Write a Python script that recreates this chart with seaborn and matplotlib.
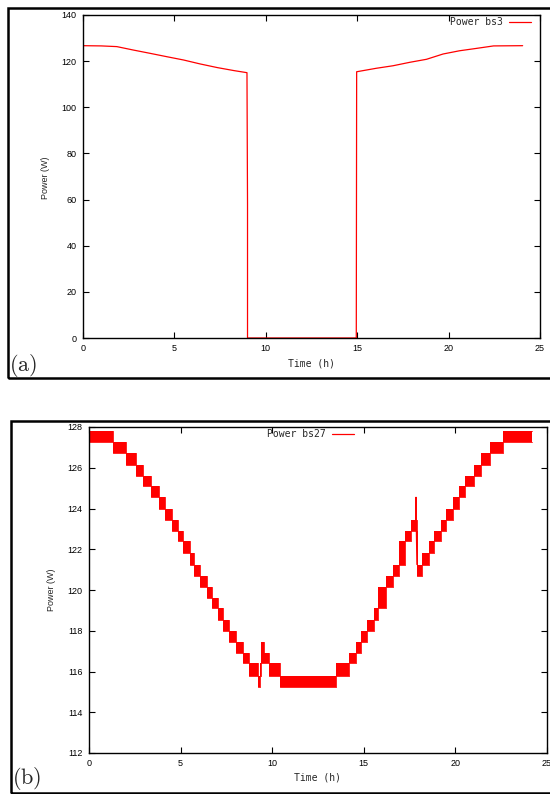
import matplotlib
matplotlib.use("Agg")
import matplotlib.pyplot as plt
import seaborn as sns
from matplotlib.patches import Rectangle

# panel (a): power of bs3 over one day
a_time = [0, 1.0, 1.85, 2.76, 3.66, 4.6, 5.5, 6.4, 7.35, 8.26, 8.97, 9.0, 9.0,
          14.95, 14.97, 16.04, 16.96, 17.88, 18.79, 19.7, 20.6, 21.5, 22.46, 24.05]
a_power = [126.7, 126.6, 126.3, 124.8, 123.4, 121.9, 120.5, 118.8, 117.2, 115.9, 115.0, 58.0, 0,
           0, 115.4, 116.9, 118.0, 119.5, 120.8, 123.1, 124.5, 125.5, 126.6, 126.7]

# panel (b): bs27 toggles between two quantised levels in each time block
b_start = [0.0, 1.32, 2.0, 2.55, 2.95, 3.4, 3.8, 4.15, 4.55, 4.85, 5.15, 5.5, 5.75,
           6.08, 6.42, 6.72, 7.03, 7.32, 7.65, 8.0, 8.4, 8.75, 9.2, 9.32, 9.4, 9.55,
           9.8, 10.4, 13.5, 14.2, 14.55, 14.85, 15.15, 15.55, 15.75, 16.2, 16.6, 16.9,
           17.25, 17.55, 17.9, 18.2, 18.55, 18.85, 19.2, 19.5, 19.85, 20.2, 20.55,
           21.0, 21.4, 21.9, 22.6]
b_low = [127.25, 126.7, 126.15, 125.6, 125.1, 124.55, 124.0, 123.45, 122.9, 122.4, 121.8, 121.25, 120.7,
         120.15, 119.6, 119.1, 118.55, 118.0, 117.45, 116.9, 116.4, 115.8, 115.25, 115.8, 116.4, 116.4,
         115.8, 115.25, 115.8, 116.4, 116.9, 117.45, 118.0, 118.55, 119.1, 120.15, 120.7, 121.25,
         122.4, 122.9, 120.7, 121.25, 121.8, 122.4, 122.9, 123.45, 124.0, 124.55, 125.1,
         125.6, 126.15, 126.7, 127.25]
b_high = [127.8, 127.25, 126.7, 126.15, 125.6, 125.1, 124.55, 124.0, 123.45, 122.9, 122.4, 121.8, 121.25,
          120.7, 120.15, 119.6, 119.1, 118.55, 118.0, 117.45, 116.9, 116.4, 115.8, 116.4, 117.45, 116.9,
          116.4, 115.8, 116.4, 116.9, 117.45, 118.0, 118.55, 119.1, 120.15, 120.7, 121.25, 122.4,
          122.9, 123.45, 121.25, 121.8, 122.4, 122.9, 123.45, 124.0, 124.55, 125.1, 125.6,
          126.15, 126.7, 127.25, 127.8]
b_end = 24.2
spike_time = [17.82, 17.85, 17.87, 17.9]
spike_power = [123.0, 124.55, 122.9, 121.25]

sns.set_style("ticks")
plt.rcParams['font.family'] = ['Liberation Sans', 'DejaVu Sans']
plt.rcParams['mathtext.fontset'] = 'cm'

W, H = 550, 794
fig = plt.figure(figsize=(5.5, 7.94), dpi=100)
ax1 = fig.add_axes([83/W, 1-338/H, (540-83)/W, (338-15)/H])
ax2 = fig.add_axes([89/W, 1-753/H, (547-89)/W, (753-427)/H])

sns.lineplot(x=a_time, y=a_power, ax=ax1, color='red', lw=0.9,
             estimator=None, sort=False, label='Power bs3')

edges = b_start + [b_end]
lo = b_low + [b_low[-1]]
hi = b_high + [b_high[-1]]
ax2.fill_between(edges, lo, hi, step='post', color='red', lw=0)
sns.lineplot(x=edges, y=lo, ax=ax2, color='red', lw=0.6, drawstyle='steps-post',
             estimator=None, sort=False)
sns.lineplot(x=edges, y=hi, ax=ax2, color='red', lw=0.6, drawstyle='steps-post',
             estimator=None, sort=False)
sns.lineplot(x=spike_time, y=spike_power, ax=ax2, color='red', lw=0.9,
             estimator=None, sort=False, label='Power bs27')

for ax in (ax1, ax2):
    ax.set_xlim(0, 25)
    ax.set_xticks([0, 5, 10, 15, 20, 25])
    ax.tick_params(direction='in', top=True, right=True, length=4, width=0.8,
                   labelsize=6.5, pad=4.5, colors='black')
    for s in ax.spines.values():
        s.set_linewidth(1.0)
        s.set_color('black')
    ax.set_xlabel('')
    ax.set_ylabel('')

ax1.set_ylim(0, 140)
ax1.set_yticks(range(0, 141, 20))
ax2.set_ylim(112, 128)
ax2.set_yticks(range(112, 129, 2))

leg_kw = dict(frameon=False, markerfirst=False, loc='upper right', borderpad=0,
              borderaxespad=0, handlelength=2.3, handletextpad=0.6,
              prop={'family': 'DejaVu Sans Mono', 'size': 7},
              bbox_transform=fig.transFigure)
ax1.legend(bbox_to_anchor=(531/W, 1-17/H), **leg_kw)
ax2.legend(bbox_to_anchor=(354/W, 1-429/H), **leg_kw)

mono = dict(family='DejaVu Sans Mono', fontsize=7, ha='center', va='center')
fig.text(311/W, 1-363/H, 'Time (h)', **mono)
fig.text(318/W, 1-778/H, 'Time (h)', **mono)
fig.text(45/W, 1-178/H, 'Power (W)', rotation=90, fontsize=6.5, ha='center', va='center')
fig.text(52/W, 1-590/H, 'Power (W)', rotation=90, fontsize=6.5, ha='center', va='center')
fig.text(9/W, 1-365/H, r'$\mathrm{(a)}$', fontsize=16, ha='left', va='center')
fig.text(12/W, 1-779/H, r'$\mathrm{(b)}$', fontsize=16, ha='left', va='center')

# frames around the two sub-figures
fig.add_artist(Rectangle((8/W, 1-378/H), (570-8)/W, (378-8)/H, transform=fig.transFigure,
                         fill=False, ec='black', lw=1.8, clip_on=False))
fig.add_artist(Rectangle((11/W, 1-793/H), (570-11)/W, (793-421)/H, transform=fig.transFigure,
                         fill=False, ec='black', lw=1.8, clip_on=False))

fig.savefig('out.png', dpi=100)
